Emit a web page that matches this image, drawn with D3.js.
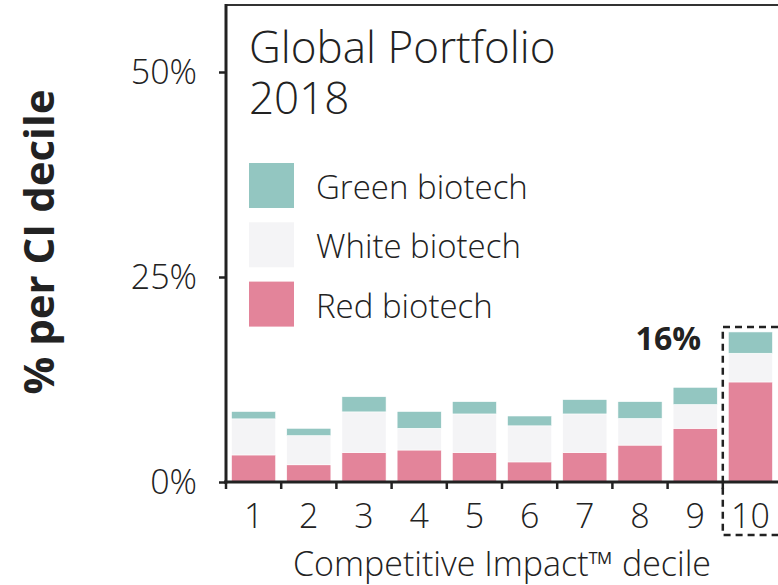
<!DOCTYPE html>
<html>
<head>
<meta charset="utf-8">
<script src="https://cdn.jsdelivr.net/npm/d3@7"></script>
<style>
    body { margin: 0; background: #fff; }
    text { font-family: "Open Sans", sans-serif; fill: #222; }
</style>
</head>
<body>
<div id="chart"></div>
<script>
// data (% of portfolio per decile)
var deciles = ["1", "2", "3", "4", "5", "6", "7", "8", "9", "10"];
var redValues = [3.3, 2.1, 3.6, 3.9, 3.6, 2.45, 3.6, 4.5, 6.55, 12.2];
var whiteValues = [4.4, 3.55, 4.95, 2.65, 4.7, 4.4, 4.7, 3.25, 2.9, 3.5];
var greenValues = [0.9, 0.9, 1.85, 2.05, 1.5, 1.2, 1.75, 2.05, 2.1, 2.6];
var seriesKeys = ["red", "white", "green"];
var seriesNames = ["Green biotech", "White biotech", "Red biotech"];
var yTicks = [0, 25, 50];
var highlightLabel = "16%";

function init() {
    var w = 778;
    var h = 585;
    var colors = { green: "#93c6c1", white: "#f4f4f6", red: "#e3849a" };

    var rows = deciles.map(function (d, i) {
        return { decile: d, red: redValues[i], white: whiteValues[i], green: greenValues[i] };
    });

    var svg = d3.select("#chart")
        .append("svg")
        .attr("width", w)
        .attr("height", h);

    var x = d3.scaleBand()
        .domain(deciles)
        .range([226, 778])
        .paddingInner(0.2)
        .paddingOuter(0.1);

    var y = d3.scaleLinear()
        .domain([0, 50])
        .range([482, 72]);

    var stacked = d3.stack().keys(seriesKeys)(rows);

    //bars
    svg.append("g")
        .selectAll("g")
        .data(stacked)
        .enter()
        .append("g")
        .attr("fill", function (d) { return colors[d.key]; })
        .selectAll("rect")
        .data(function (d) { return d; })
        .enter()
        .append("rect")
        .attr("x", function (d) { return x(d.data.decile); })
        .attr("y", function (d) { return y(d[1]); })
        .attr("width", x.bandwidth())
        .attr("height", function (d) { return y(d[0]) - y(d[1]); })
        .attr("stroke", "#fff")
        .attr("stroke-width", 0.6);

    //frame top line
    svg.append("line")
        .attr("x1", 226).attr("x2", w)
        .attr("y1", 5).attr("y2", 5)
        .attr("stroke", "#333")
        .attr("stroke-width", 2);

    //y axis
    var yAxis = svg.append("g")
        .attr("transform", "translate(226,0)")
        .call(d3.axisLeft(y).tickValues(yTicks).tickSize(7).tickPadding(22)
            .tickFormat(function (d) { return d + "%"; }));
    yAxis.select(".domain").remove();
    yAxis.append("line")
        .attr("x1", 0).attr("x2", 0)
        .attr("y1", 4).attr("y2", 483.5)
        .attr("stroke", "#222")
        .attr("stroke-width", 3);
    yAxis.selectAll(".tick line").attr("stroke", "#222").attr("stroke-width", 2.5);
    yAxis.selectAll(".tick text")
        .attr("font-size", 34)
        .attr("font-weight", 300)
        .attr("fill", "#333")
        .attr("dy", "0.35em");

    //x axis
    var xAxis = svg.append("g")
        .attr("transform", "translate(0,482)")
        .call(d3.axisBottom(x).tickSize(0).tickPadding(46));
    xAxis.select(".domain").remove();
    xAxis.append("line")
        .attr("x1", 224).attr("x2", w)
        .attr("stroke", "#222")
        .attr("stroke-width", 3);
    xAxis.selectAll(".tick text")
        .attr("font-size", 34)
        .attr("font-weight", 300)
        .attr("fill", "#333")
        .attr("dy", 0);
    // small ticks between the bars
    var step = x.step();
    xAxis.selectAll(".sep")
        .data(deciles.slice(0, 9))
        .enter()
        .append("line")
        .attr("x1", function (d) { return x(d) - x.paddingOuter() * step + step; })
        .attr("x2", function (d) { return x(d) - x.paddingOuter() * step + step; })
        .attr("y1", 0).attr("y2", 7)
        .attr("stroke", "#222")
        .attr("stroke-width", 2.5);
    xAxis.append("line")
        .attr("x1", 226).attr("x2", 226)
        .attr("y1", 0).attr("y2", 7)
        .attr("stroke", "#222")
        .attr("stroke-width", 2.5);

    //axis titles
    svg.append("text")
        .attr("x", 502)
        .attr("y", 576)
        .attr("text-anchor", "middle")
        .attr("font-size", 34)
        .attr("font-weight", 300)
        .attr("fill", "#333")
        .text("Competitive Impact\u2122 decile");

    svg.append("text")
        .attr("transform", "translate(54,242) rotate(-90)")
        .attr("text-anchor", "middle")
        .attr("font-size", 42)
        .attr("font-weight", 700)
        .text("% per CI decile");

    //title
    svg.append("text")
        .attr("x", 249)
        .attr("y", 63)
        .attr("font-size", 44)
        .attr("font-weight", 300)
        .attr("fill", "#333")
        .text("Global Portfolio");
    svg.append("text")
        .attr("x", 249)
        .attr("y", 114)
        .attr("font-size", 44)
        .attr("font-weight", 300)
        .attr("fill", "#333")
        .text("2018");

    //legend
    var legendColors = [colors.green, colors.white, colors.red];
    var legend = svg.append("g")
        .selectAll("g")
        .data(seriesNames)
        .enter()
        .append("g")
        .attr("transform", function (d, i) { return "translate(249," + (163 + i * 59.3) + ")"; });
    legend.append("rect")
        .attr("width", 45)
        .attr("height", 45)
        .attr("fill", function (d, i) { return legendColors[i]; });
    legend.append("text")
        .attr("x", 67)
        .attr("y", 36)
        .attr("font-size", 33)
        .attr("font-weight", 300)
        .attr("fill", "#333")
        .text(function (d) { return d; });

    //highlight of the top decile
    var hx = x("10") - x.paddingOuter() * step;
    var hTop = 327;
    svg.append("path")
        .attr("d", "M" + w + "," + hTop + "H" + hx + "V535H" + w)
        .attr("fill", "none")
        .attr("stroke", "#222")
        .attr("stroke-width", 2.5)
        .attr("stroke-dasharray", "7,5");
    svg.append("text")
        .attr("x", 701)
        .attr("y", 350)
        .attr("text-anchor", "end")
        .attr("font-size", 32)
        .attr("font-weight", 700)
        .text(highlightLabel);
}
window.onload = init;
</script>
</body>
</html>
